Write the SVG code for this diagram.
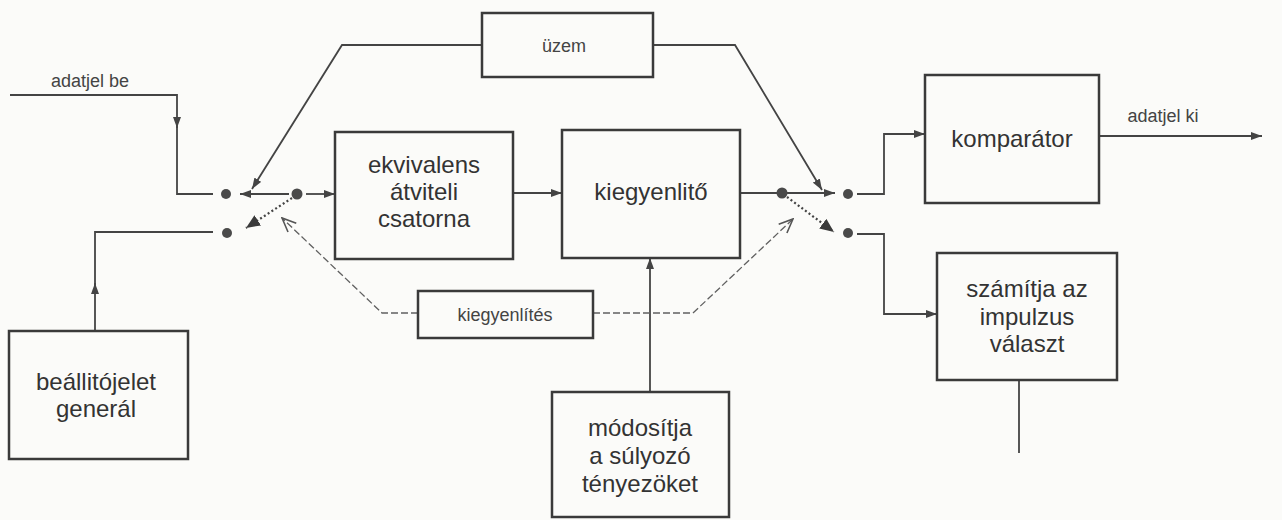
<svg xmlns="http://www.w3.org/2000/svg" width="1282" height="520" viewBox="0 0 1282 520">
  <style>
    .box { fill: none; stroke: #3a3a3a; stroke-width: 2.5; }
    .lbl { font-family: "Liberation Sans", Arial, sans-serif; font-size: 24px; fill: #333; text-anchor: middle; }
    .small { font-family: "Liberation Sans", Arial, sans-serif; font-size: 18px; fill: #444; text-anchor: middle; }
    .wire { fill: none; stroke: #444; stroke-width: 1.8; }
    .dotted { fill: none; stroke: #444; stroke-width: 2.2; stroke-dasharray: 2 2.5; }
    .dashed { fill: none; stroke: #606060; stroke-width: 1.3; stroke-dasharray: 7 3; }
    .dot { fill: #4a4a4a; }
  </style>
  <defs>
    <marker id="arr" markerUnits="userSpaceOnUse" markerWidth="11" markerHeight="8" refX="11" refY="4" orient="auto">
      <path d="M0,0 L11,4 L0,8 z" fill="#444"/>
    </marker>
    <marker id="arrBig" markerUnits="userSpaceOnUse" markerWidth="14" markerHeight="12" refX="14" refY="6" orient="auto">
      <path d="M0,0 L14,6 L0,12 z" fill="#3a3a3a"/>
    </marker>
    <marker id="arrOpen" markerUnits="userSpaceOnUse" markerWidth="16" markerHeight="14" refX="15" refY="7" orient="auto">
      <path d="M1,1 L15,7 L1,13" fill="none" stroke="#555" stroke-width="1.6"/>
    </marker>
  </defs>

  <rect width="1282" height="520" fill="#fbfbf9"/>

  <!-- connectors -->
  <g id="connectors">
    <!-- data input to the upper switch contact -->
    <path class="wire" d="M10 95 H177 V128" marker-end="url(#arr)"/>
    <path class="wire" d="M177 124 V194 H213"/>
    <!-- training signal to the lower switch contact -->
    <path class="wire" d="M95 331 V283" marker-end="url(#arr)"/>
    <path class="wire" d="M95 286 V232 H213"/>
    <!-- input switch -->
    <path class="wire" d="M289 194 H240" marker-end="url(#arr)"/>
    <path class="wire" d="M306 194 H335" marker-end="url(#arr)"/>
    <path class="dotted" d="M292 198 L246 228" marker-end="url(#arrBig)"/>
    <!-- operation mode control -->
    <path class="wire" d="M482 45 H342 L252 189" marker-end="url(#arr)"/>
    <path class="wire" d="M653 45 H735 L822 190" marker-end="url(#arr)"/>
    <!-- main signal path -->
    <path class="wire" d="M513 193 H562" marker-end="url(#arr)"/>
    <path class="wire" d="M740 193 H835" marker-end="url(#arr)"/>
    <path class="dotted" d="M787 197 L834 232" marker-end="url(#arrBig)"/>
    <!-- output switch -->
    <path class="wire" d="M857 194 H884 V134 H925" marker-end="url(#arr)"/>
    <path class="wire" d="M857 234 H884 V314 H937" marker-end="url(#arr)"/>
    <path class="wire" d="M1099 136 H1262" marker-end="url(#arr)"/>
    <path class="wire" d="M1019 380 V453"/>
    <!-- weight update into the equalizer -->
    <path class="wire" d="M650 392 V258" marker-end="url(#arr)"/>
    <!-- equalization mode control -->
    <path class="dashed" d="M418 313 H382 L282 218" marker-end="url(#arrOpen)"/>
    <path class="dashed" d="M593 313 H693 L793 219" marker-end="url(#arrOpen)"/>
    <!-- switch contacts -->
    <circle class="dot" cx="226" cy="194" r="5"/>
    <circle class="dot" cx="227" cy="233" r="5"/>
    <circle class="dot" cx="297" cy="194" r="5.5"/>
    <circle class="dot" cx="782" cy="193" r="5.5"/>
    <circle class="dot" cx="848" cy="194" r="5"/>
    <circle class="dot" cx="848" cy="233" r="5"/>
  </g>

  <text class="small" x="90" y="87">adatjel be</text>
  <text class="small" x="1163" y="122">adatjel ki</text>

  <g id="uzem">
    <rect class="box" x="482" y="13" width="171" height="64"/>
    <text class="small" x="564" y="52">üzem</text>
  </g>

  <g id="ekvivalens">
    <rect class="box" x="335" y="132" width="178" height="127"/>
    <text class="lbl" x="424" y="173">ekvivalens</text>
    <text class="lbl" x="424" y="200">átviteli</text>
    <text class="lbl" x="424" y="227">csatorna</text>
  </g>

  <g id="kiegyenlito">
    <rect class="box" x="562" y="130" width="178" height="128"/>
    <text class="lbl" x="651" y="200">kiegyenlitő</text>
  </g>

  <g id="komparator">
    <rect class="box" x="925" y="75" width="174" height="128"/>
    <text class="lbl" x="1012" y="147">komparátor</text>
  </g>

  <g id="szamitja">
    <rect class="box" x="937" y="253" width="180" height="127"/>
    <text class="lbl" x="1027" y="297">számítja az</text>
    <text class="lbl" x="1027" y="325">impulzus</text>
    <text class="lbl" x="1027" y="352">választ</text>
  </g>

  <g id="kiegyenlites">
    <rect class="box" x="418" y="291" width="175" height="47"/>
    <text class="small" x="505" y="321">kiegyenlítés</text>
  </g>

  <g id="beallito">
    <rect class="box" x="9" y="331" width="179" height="128"/>
    <text class="lbl" x="96" y="390">beállitójelet</text>
    <text class="lbl" x="96" y="417">generál</text>
  </g>

  <g id="modositja">
    <rect class="box" x="552" y="392" width="177" height="125"/>
    <text class="lbl" x="640" y="436">módosítja</text>
    <text class="lbl" x="640" y="464">a súlyozó</text>
    <text class="lbl" x="640" y="492">tényezöket</text>
  </g>
</svg>
